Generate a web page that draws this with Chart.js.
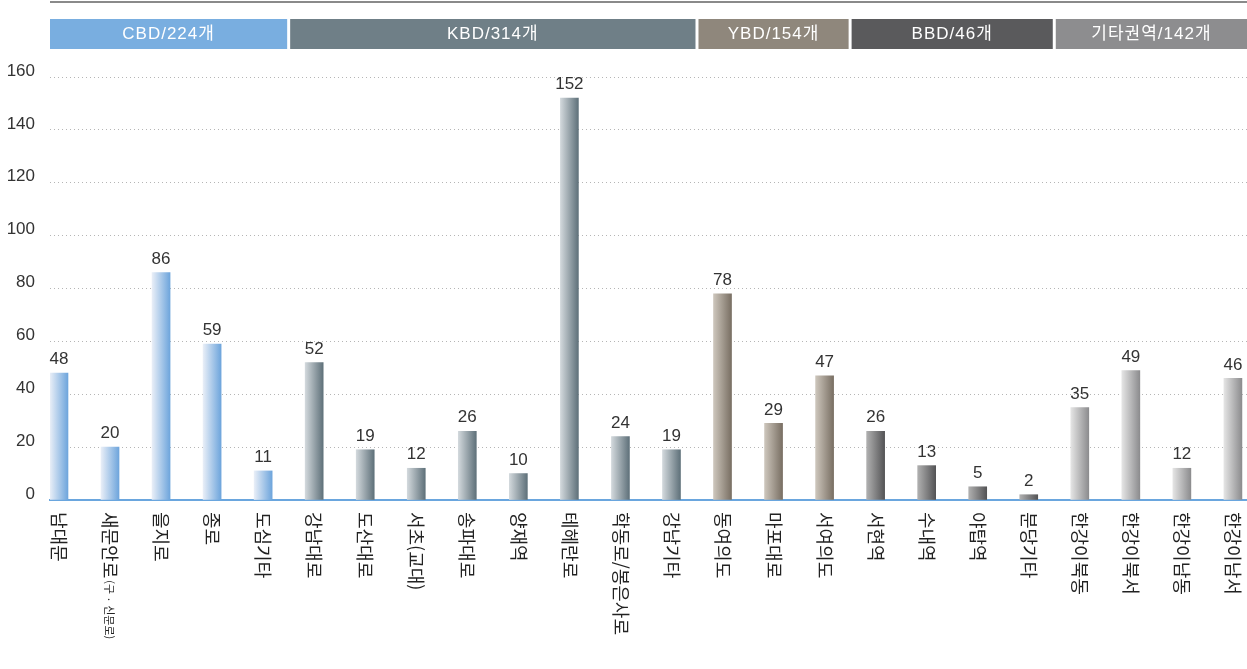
<!DOCTYPE html>
<html lang="ko">
<head>
<meta charset="utf-8">
<title>권역별 오피스 빌딩 수</title>
<script src="https://cdn.jsdelivr.net/npm/chart.js@4/dist/chart.umd.min.js"></script>
<style>
  html, body { margin:0; padding:0; background:#fff; }
  #wrap { width:1247px; height:669px; position:relative; }
</style>
</head>
<body>
<div id="wrap"><canvas id="chart"></canvas></div>
<script>
// ===== Data =====
const labels = [
  "남대문","새문안로(구 · 신문로)","을지로","종로","도심기타",
  "강남대로","도산대로","서초(교대)","송파대로","양재역","테헤란로","학동로/봉은사로","강남기타",
  "동여의도","마포대로","서여의도",
  "서현역","수내역","야탑역","분당기타",
  "한강이북동","한강이북서","한강이남동","한강이남서"
];
const values = [48,20,86,59,11, 52,19,12,26,10,152,24,19, 78,29,47, 26,13,5,2, 35,49,12,46];

const groupNames  = ["CBD","KBD","YBD","BBD","기타권역"];
const groupCounts = [224,314,154,46,142];
const groupSizes  = [5,8,3,4,4];

const yTicks = [0,20,40,60,80,100,120,140,160];

// ===== Styles =====
const bandColors = ["#79aee0","#6f7f87","#8f877c","#5a5a5c","#8d8d8f"];
const barGrad = [
  ["#e8eef7","#6ea5dc"],
  ["#d2d8dc","#5f717a"],
  ["#cdc6bc","#796f63"],
  ["#b0b0b0","#545456"],
  ["#e4e4e4","#8c8c8e"]
];

// index -> group
const groupOf = [];
groupSizes.forEach((n,g)=>{ for(let i=0;i<n;i++) groupOf.push(g); });

const BAR_W = 18;

function barColor(ctx){
  const chart = ctx.chart;
  const g = groupOf[ctx.dataIndex] ?? 0;
  if(!chart.chartArea || !chart.scales.x) return barGrad[g][1];
  const x = chart.scales.x.getPixelForValue(ctx.dataIndex);
  const grd = chart.ctx.createLinearGradient(x-BAR_W/2, 0, x+BAR_W/2, 0);
  grd.addColorStop(0, barGrad[g][0]);
  grd.addColorStop(1, barGrad[g][1]);
  return grd;
}

// ===== Plugins =====
const decorPlugin = {
  id:"decor",
  beforeDraw(chart){
    const {ctx, chartArea:a, scales:{x}} = chart;
    ctx.save();
    // top rule
    ctx.strokeStyle = "#8a8a8a";
    ctx.lineWidth = 2;
    ctx.beginPath(); ctx.moveTo(a.left, 2); ctx.lineTo(a.right, 2); ctx.stroke();

    // group bands
    let start = 0;
    groupSizes.forEach((n,g)=>{
      const end = start + n - 1;
      let l = Math.max(a.left, x.getPixelForValue(start-0.5) + 1.5);
      let r = Math.min(a.right, x.getPixelForValue(end+0.5) - 1.5);
      if(g===0) l = a.left;
      if(g===groupSizes.length-1) r = a.right;
      ctx.fillStyle = bandColors[g];
      ctx.fillRect(l, 19, r-l, 30);
      ctx.fillStyle = "#fff";
      ctx.font = '17px "Liberation Sans", "Noto Sans CJK KR", sans-serif';
      ctx.letterSpacing = "1px";
      ctx.textAlign = "center";
      ctx.textBaseline = "middle";
      ctx.fillText(`${groupNames[g]}/${groupCounts[g]}개`, (l+r)/2, 34.5);
      ctx.letterSpacing = "0px";
      start += n;
    });
    ctx.restore();
  },
  afterDatasetsDraw(chart){
    const {ctx, scales:{x,y}} = chart;
    ctx.save();
    // value labels
    ctx.fillStyle = "#333";
    ctx.font = '17px "Liberation Sans", sans-serif';
    ctx.textAlign = "center";
    ctx.textBaseline = "bottom";
    values.forEach((v,i)=>{
      ctx.fillText(String(v), x.getPixelForValue(i), y.getPixelForValue(v) - 5);
    });

    // category labels, rotated to read top-to-bottom
    ctx.fillStyle = "#222";
    ctx.textAlign = "left";
    ctx.textBaseline = "middle";
    labels.forEach((lab,i)=>{
      const px = x.getPixelForValue(i);
      ctx.save();
      ctx.translate(px, 512);
      ctx.rotate(Math.PI/2);
      const k = lab.indexOf("(");
      if(k>0 && lab.indexOf("·")>0){
        const main = lab.slice(0,k), sub = lab.slice(k);
        ctx.font = '18px "Noto Sans CJK KR", sans-serif';
        ctx.fillText(main, 0, 0);
        const w = ctx.measureText(main).width;
        ctx.font = '11px "Noto Sans CJK KR", sans-serif';
        ctx.fillText(sub, w + 2, 1);
      } else {
        ctx.font = '18px "Noto Sans CJK KR", sans-serif';
        ctx.fillText(lab, 0, 0);
      }
      ctx.restore();
    });
    ctx.restore();
  }
};

// ===== Chart =====
new Chart(document.getElementById("chart"), {
  type:"bar",
  data:{
    datasets:[{
      data: values.map((v,i)=>({x:i, y:v})),
      backgroundColor: barColor,
      barThickness: BAR_W,
      borderWidth: 0
    }]
  },
  options:{
    responsive:true,
    maintainAspectRatio:false,
    animation:false,
    layout:{ padding:{ top:77, bottom:169, left:0, right:0 } },
    plugins:{ legend:{display:false}, tooltip:{enabled:false} },
    scales:{
      x:{
        type:"linear",
        offset:false,
        min:-0.176,
        max:23.276,
        ticks:{ display:false },
        grid:{ display:false, drawTicks:false, offset:false },
        border:{ display:true, color:"#6aa6de", width:2 }
      },
      y:{
        min:0, max:160,
        afterBuildTicks(scale){ scale.ticks = yTicks.map(v=>({value:v})); },
        afterFit(scale){ scale.width = 50; },
        ticks:{
          color:"#333",
          padding:15,
          labelOffset:-6,
          font:{ family:'"Liberation Sans", sans-serif', size:17 }
        },
        grid:{ color:"#b5b5b5", lineWidth:1, drawTicks:false },
        border:{ display:false, dash:[1,3] }
      }
    }
  },
  plugins:[decorPlugin]
});
</script>
</body>
</html>
